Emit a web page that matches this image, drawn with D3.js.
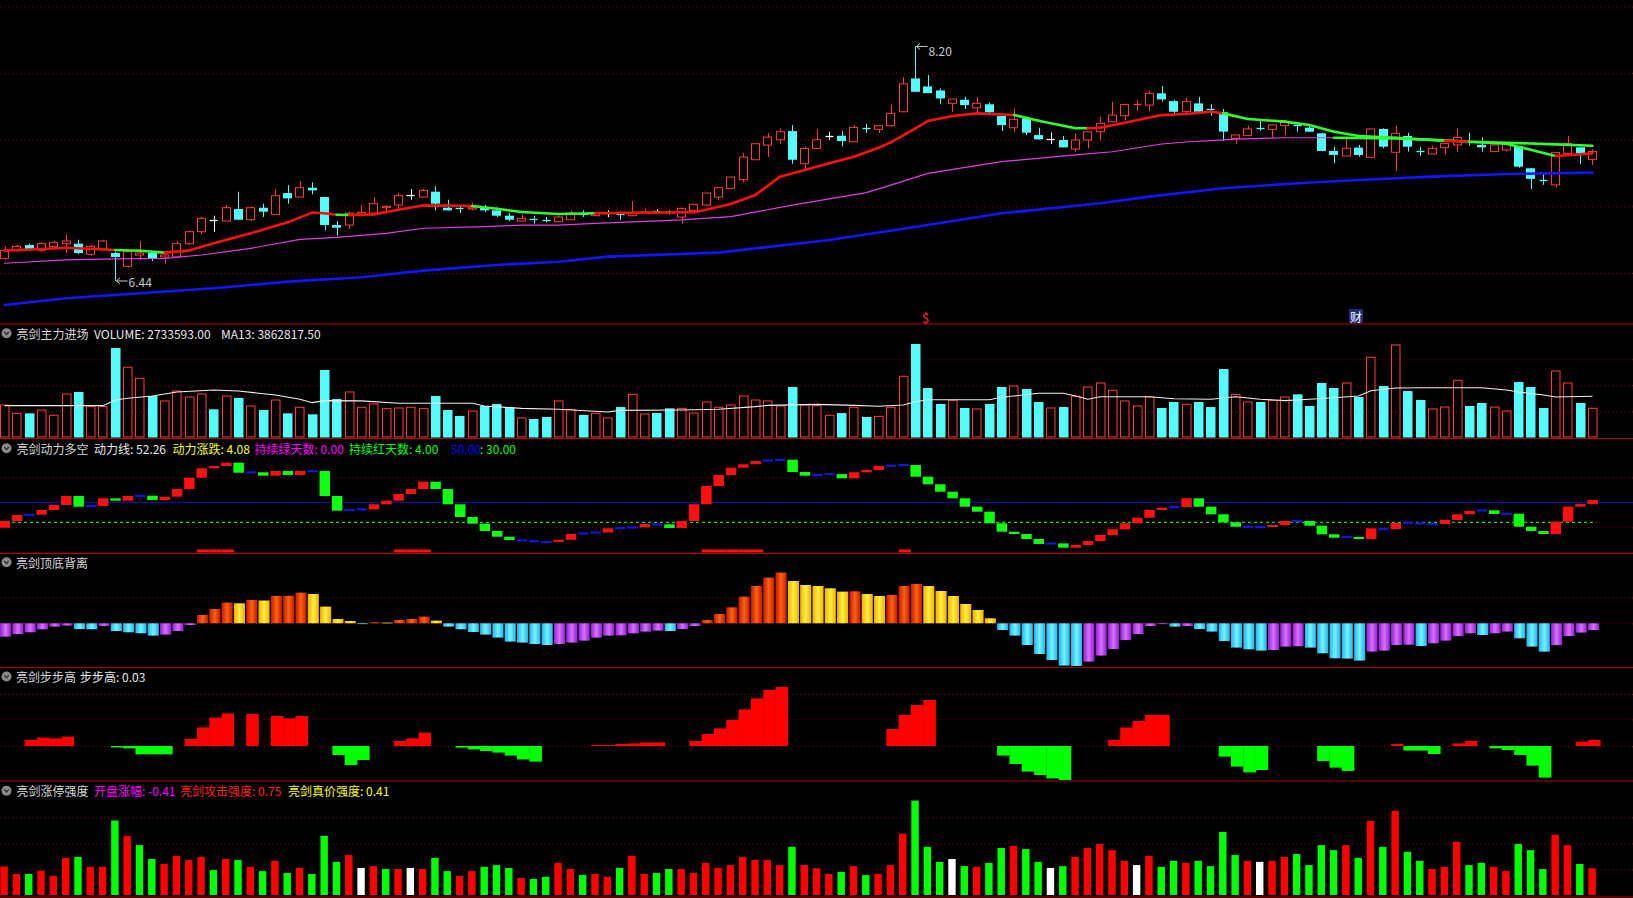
<!DOCTYPE html>
<html><head><meta charset="utf-8">
<script src="https://cdnjs.cloudflare.com/ajax/libs/d3/7.8.5/d3.min.js"></script>
<style>
html,body{margin:0;padding:0;background:#000;overflow:hidden;}
svg{display:block;}
text{font-family:"Noto Sans CJK SC","Noto Sans",sans-serif;font-size:12px;}
</style></head><body>
<svg id="chart" width="1633" height="898"></svg>
<script>
const N = 130;
// ---- main chart: OHLC ----
const open = [
6.61,6.67,6.71,6.67,6.70,6.72,6.72,6.64,6.68,6.65,
6.55,6.635,6.65,6.62,6.62,6.72,6.81,6.90,6.89,6.98,
6.90,6.99,6.94,7.10,7.07,7.14,7.07,6.86,6.86,6.94,
6.95,6.99,7.01,7.085,7.07,7.11,6.99,6.99,6.98,6.99,
6.97,6.93,6.89,6.905,6.90,6.885,6.90,6.95,6.93,6.951,
6.94,6.93,6.95,6.967,6.955,6.92,6.97,7.01,7.07,7.135,
7.20,7.35,7.46,7.50,7.565,7.32,7.435,7.53,7.53,7.485,
7.59,7.578,7.605,7.71,7.96,7.90,7.87,7.773,7.80,7.74,
7.766,7.678,7.59,7.66,7.535,7.505,7.498,7.43,7.498,7.56,
7.635,7.68,7.758,7.76,7.848,7.79,7.711,7.773,7.73,7.706,
7.511,7.531,7.588,7.578,7.606,7.613,7.591,7.548,7.416,7.378,
7.441,7.368,7.581,7.406,7.528,7.413,7.393,7.441,7.461,7.486,
7.461,7.411,7.423,7.453,7.286,7.2,7.161,7.398,7.443,7.353];
const high = [
6.70,6.71,6.72,6.73,6.74,6.79,6.75,6.71,6.75,6.66,
6.67,6.74,6.66,6.66,6.74,6.82,6.92,6.93,7.01,7.11,
7.00,7.02,7.13,7.16,7.19,7.18,7.07,6.89,6.96,7.01,
7.07,7.01,7.10,7.13,7.13,7.15,7.05,7.01,7.03,7.01,
6.97,6.95,6.94,6.93,6.92,6.93,6.97,6.97,6.96,6.97,
6.96,7.04,6.98,6.98,6.97,6.99,7.02,7.10,7.14,7.22,
7.40,7.47,7.55,7.585,7.61,7.45,7.58,7.56,7.565,7.61,
7.62,7.605,7.765,7.97,8.20,7.985,7.885,7.805,7.823,7.818,
7.778,7.678,7.735,7.66,7.59,7.555,7.528,7.548,7.56,7.673,
7.785,7.765,7.798,7.868,7.903,7.80,7.816,7.823,7.766,7.731,
7.536,7.606,7.641,7.611,7.641,7.623,7.616,7.553,7.448,7.523,
7.461,7.581,7.586,7.606,7.553,7.448,7.456,7.473,7.586,7.553,
7.518,7.461,7.466,7.453,7.286,7.253,7.403,7.528,7.443,7.428];
const low = [
6.60,6.66,6.67,6.66,6.69,6.65,6.64,6.63,6.67,6.44,
6.54,6.60,6.59,6.57,6.62,6.71,6.79,6.81,6.89,6.90,
6.89,6.92,6.94,7.02,7.07,7.09,6.82,6.78,6.83,6.94,
6.95,6.95,6.97,7.05,7.07,6.97,6.97,6.95,6.97,6.96,
6.92,6.89,6.89,6.87,6.88,6.88,6.90,6.92,6.93,6.92,
6.90,6.93,6.945,6.95,6.94,6.87,6.95,7.00,7.05,7.13,
7.18,7.35,7.37,7.47,7.32,7.27,7.43,7.50,7.45,7.485,
7.55,7.55,7.598,7.71,7.86,7.85,7.77,7.71,7.73,7.70,
7.686,7.565,7.56,7.535,7.50,7.468,7.443,7.41,7.435,7.498,
7.635,7.648,7.718,7.715,7.786,7.686,7.686,7.711,7.681,7.491,
7.468,7.531,7.568,7.518,7.536,7.561,7.561,7.416,7.323,7.378,
7.373,7.361,7.436,7.266,7.411,7.378,7.393,7.391,7.406,7.456,
7.411,7.411,7.411,7.291,7.131,7.161,7.141,7.386,7.318,7.311];
const close = [
6.67,6.70,6.68,6.72,6.73,6.74,6.65,6.70,6.74,6.62,
6.66,6.65,6.61,6.635,6.72,6.81,6.91,6.90,6.99,6.90,
6.99,6.96,7.08,7.06,7.14,7.12,6.86,6.84,6.95,6.955,
7.02,7.00,7.08,7.085,7.12,7.02,6.97,6.985,6.99,6.97,
6.93,6.90,6.91,6.90,6.895,6.92,6.95,6.935,6.95,6.951,
6.935,6.95,6.96,6.964,6.955,6.985,7.015,7.10,7.14,7.22,
7.37,7.47,7.52,7.56,7.35,7.435,7.50,7.53,7.49,7.593,
7.585,7.605,7.698,7.92,7.86,7.85,7.81,7.805,7.76,7.773,
7.706,7.61,7.653,7.553,7.503,7.505,7.443,7.498,7.56,7.623,
7.685,7.765,7.765,7.848,7.803,7.71,7.786,7.711,7.725,7.561,
7.536,7.581,7.586,7.611,7.631,7.61,7.561,7.416,7.386,7.436,
7.386,7.581,7.448,7.548,7.448,7.411,7.436,7.473,7.518,7.484,
7.443,7.461,7.466,7.298,7.206,7.198,7.403,7.473,7.398,7.411];
// main moving average (thick, red = rising state, green = falling state), sampled
const maIdx = [0,3,5,9,11,13,15,17,20,23,25,26,27,28,30,32,34,36,38,40,42,45,48,52,56,57,59,61,63,65,67,69,71,72,74,75,77,79,82,84,87,88,89,91,94,96,98,99,101,104,106,108,110,113,117,119,122,126,129];
const maVal = [6.668,6.68,6.69,6.673,6.667,6.653,6.668,6.723,6.798,6.88,6.953,6.948,6.937,6.935,6.94,6.975,7.006,7.006,7.003,6.982,6.958,6.943,6.948,6.953,6.956,6.975,7.018,7.086,7.223,7.273,7.323,7.373,7.44,7.48,7.586,7.64,7.678,7.698,7.686,7.643,7.586,7.586,7.59,7.628,7.685,7.693,7.71,7.698,7.656,7.636,7.611,7.56,7.528,7.515,7.493,7.485,7.47,7.378,7.398];
const maTrend = [1,1,1,1,0,0,1,1,1,1, 1,1,1,0,1,1,1,1,1,0, 0,0,0,1,1,1,1,1,1,1, 1,1,1,1,1,1,1,1,1,0, 0,0,1,1,1,1,1,1,0,0, 0,0,0,0,0,1,0,0,1];
// middle moving average (magenta, later drawn green)
const mbIdx = [0,5,9,13,16,20,24,27,31,34,39,42,45,48,55,59,64,70,72,75,81,87,90,94,96,100,104,108,113,117,119,122,126,129];
const mbVal = [6.573,6.598,6.606,6.61,6.635,6.685,6.753,6.768,6.798,6.836,6.848,6.86,6.86,6.873,6.898,6.923,7.01,7.103,7.16,7.248,7.336,7.386,7.41,7.468,7.483,7.505,7.515,7.515,7.51,7.495,7.485,7.478,7.465,7.455];
const mbSwitch = 108;
// long moving average (blue)
const mcIdx = [0,5,11,17,23,29,34,40,45,49,58,67,75,81,89,93,99,105,110,116,122,129];
const mcVal = [6.26,6.31,6.348,6.385,6.435,6.468,6.518,6.56,6.585,6.623,6.653,6.748,6.86,6.948,7.023,7.073,7.136,7.173,7.198,7.223,7.243,7.253];
const priceTicks = [6.5,7.0,7.5,8.0,8.5];

// ---- volume (万股) ----
const volume = [
304,226,226,257,208,407,426,289,289,838,
657,554,388,342,435,379,407,264,388,370,
295,257,351,226,283,217,632,360,426,283,
314,270,276,283,270,388,257,201,248,295,
314,283,183,173,192,342,264,211,226,183,
285,404,220,229,273,273,229,332,283,304,
388,351,342,295,473,304,298,208,229,283,
192,198,283,573,875,463,314,348,276,267,
314,473,482,454,332,276,285,386,473,510,
442,342,295,379,276,332,311,332,285,641,
404,332,332,348,379,404,295,510,463,510,
379,751,482,866,435,351,267,285,535,295,
323,285,248,519,473,276,622,510,323,273];
const vmaIdx = [0,8,9,10,12,14,17,19,22,24,25,26,29,32,38,39,42,45,49,50,55,58,61,62,66,69,71,73,74,75,80,81,82,84,86,87,88,89,93,95,98,100,102,104,106,108,110,111,113,115,120,122,123,125,126,129];
const vmaVal = [298,298,351,367,388,426,445,435,398,358,326,345,343,320,320,295,273,264,239,254,257,264,289,301,310,301,292,304,335,354,354,376,388,414,414,388,358,382,382,363,358,382,358,345,358,372,388,438,463,466,466,445,426,398,379,386];
const volTicks = [245,489,732];

// ---- 亮剑动力多空 ----
const dlStart = 24.6;
const dongli = [
31.3,37.3,37.6,42.3,47.3,56.3,45.6,46.3,54.0,51.6,
56.3,56.6,52.3,55.6,63.3,74.6,84.0,86.3,89.6,79.6,
80.0,76.6,81.3,77.3,81.3,81.3,56.3,41.6,42.3,43.0,
48.0,51.6,58.3,63.3,70.6,63.3,48.0,35.3,28.6,21.3,
15.6,12.3,12.0,11.2,10.4,12.6,18.3,19.0,19.8,24.0,
24.3,25.0,28.3,28.0,24.3,31.3,48.0,66.3,77.3,84.6,
88.0,91.3,91.8,92.6,80.3,76.6,77.4,78.2,74.0,80.0,
82.3,86.3,86.6,87.3,75.6,68.0,60.6,54.0,45.6,40.6,
29.0,20.6,18.3,13.3,8.3,8.9,4.6,7.3,11.3,17.3,
23.0,29.0,34.6,42.3,44.6,45.3,54.0,45.6,38.0,30.0,
25.6,25.6,25.3,27.3,31.3,31.3,26.6,18.0,14.6,15.4,
13.3,24.0,23.3,29.3,29.6,28.9,28.3,32.3,38.0,41.3,
42.0,38.3,38.6,25.6,21.3,18.3,30.6,45.6,48.18,52.26];
const dlSignal = [16,17,18,32,33,34,57,58,59,60,61,73];
const dlRefHigh = 50, dlRefLow = 30;
const dlTicks = [25,75];

// ---- 亮剑顶底背离 ----
const beili = [
-13.3,-10.7,-9,-6,-3.3,-2.3,-5.7,-6.0,-2.7,-7.7,
-9,-10,-12.3,-11.3,-7.7,-1.7,8.3,14.3,20.7,20.0,
23.3,22.8,27.3,27.5,30.7,29.3,16.7,4.3,2.3,-0.3,
1.0,0.7,3.3,4.3,6.7,2.7,-3.3,-6,-8.7,-11.3,
-14.3,-18.3,-19.3,-20.7,-21.7,-20.7,-19.3,-17.3,-14.3,-12.3,
-12.0,-10,-8.3,-7.3,-7.7,-5.7,-2.7,3.3,9.3,16,
26.7,37.3,45.7,50.7,42.3,38.3,37.3,35,31.7,32.0,
29.3,27.3,28.3,37.3,39.3,37.3,32.3,27.3,19.3,13.3,
5,-6.7,-12.3,-21.7,-30.7,-36.7,-42.3,-42.7,-38.3,-32.3,
-25.7,-16.7,-10.7,-2.7,-0.7,-3.3,-2.7,-5.7,-8.3,-17.7,
-24.3,-26,-27.3,-26.7,-23.3,-23.0,-24.3,-30,-35,-35.3,
-37.3,-28.3,-27.3,-21.7,-21.4,-22.7,-20,-17.3,-12.7,-10,
-11.7,-10,-8.3,-15,-23.3,-28.3,-21.7,-12.7,-9.3,-6.7];
const beiliTicks = [0,26];

// ---- 亮剑步步高 ----
const bubugao = [
0,0,0.030,0.042,0.038,0.047,0,0,0,-0.007,
-0.012,-0.042,-0.042,-0.042,0,0.035,0.093,0.142,0.163,0,
0.16,0,0.15,0.138,0.15,0,0,-0.045,-0.095,-0.07,
0,0,0.025,0.038,0.067,0,0,-0.008,-0.017,-0.025,
-0.033,-0.048,-0.067,-0.078,0,0,0,0,0.005,0.005,
0.01,0.013,0.018,0.018,0,0,0.025,0.06,0.088,0.13,
0.183,0.238,0.28,0.295,0,0,0,0,0,0,
0,0,0.085,0.155,0.205,0.23,0,0,0,0,
0,-0.048,-0.09,-0.128,-0.145,-0.162,-0.17,0,0,0,
0.03,0.092,0.125,0.155,0.155,0,0,0,0,-0.053,
-0.103,-0.132,-0.12,0,0,0,0,-0.075,-0.108,-0.125,
0,0,0,0.01,-0.023,-0.023,-0.04,0,0.013,0.025,
0,-0.012,-0.02,-0.045,-0.098,-0.158,0,0,0.022,0.03];
const bbgTicks = [0,0.1335,0.26];

// ---- 亮剑涨停强度 ----
const qiangdu = [
0.80,0.59,0.59,0.68,0.54,1.04,1.07,0.79,0.79,2.09,
1.66,1.40,1.01,0.87,1.10,0.98,1.07,0.70,1.01,0.98,
0.79,0.67,0.96,0.62,0.76,0.59,1.66,0.93,1.12,0.76,
0.81,0.73,0.73,0.76,0.73,1.04,0.67,0.53,0.67,0.79,
0.84,0.76,0.48,0.45,0.51,0.90,0.73,0.56,0.59,0.51,
0.76,1.10,0.59,0.62,0.73,0.73,0.62,0.90,0.76,0.84,
1.07,0.98,0.98,0.84,1.35,0.84,0.75,0.59,0.65,0.81,
0.56,0.59,0.84,1.72,2.65,1.35,0.93,1.01,0.81,0.79,
0.90,1.32,1.38,1.29,0.93,0.76,0.81,1.07,1.32,1.43,
1.26,0.96,0.84,1.10,0.79,0.96,0.90,0.96,0.81,1.77,
1.12,0.96,0.93,0.96,1.07,1.15,0.84,1.40,1.26,1.40,
1.04,2.08,1.35,2.36,1.21,0.96,0.73,0.79,1.49,0.84,
0.90,0.79,0.67,1.43,1.26,0.73,1.69,1.40,0.87,0.75];
const qdDir = [
1,1,-1,1,1,1,-1,1,1,-1,
1,-1,-1,1,1,1,1,-1,1,-1,
1,-1,1,-1,1,-1,-1,-1,1,0,
1,-1,1,0,1,-1,-1,1,1,-1,
-1,-1,1,-1,-1,1,1,-1,1,1,
-1,1,1,-1,-1,1,1,1,1,1,
1,1,1,1,-1,1,1,1,-1,1,
-1,1,1,1,-1,-1,-1,0,-1,1,
-1,-1,1,-1,-1,0,-1,1,1,1,
1,1,0,1,-1,-1,1,-1,-1,-1,
-1,1,0,1,1,-1,-1,-1,-1,1,
-1,1,-1,1,-1,-1,1,1,1,-1,
-1,1,1,-1,-1,-1,1,1,-1,1];
const qdTicks = [0.72,1.45,2.18];

// ---- titles ----
const titleVol = [["亮剑主力进场","#d8d8d8",16.5],["VOLUME: 2733593.00","#e8e8e8",94],["MA13: 3862817.50","#e8e8e8",221]];
const titleDl = [["亮剑动力多空","#d8d8d8",16.5],["动力线: 52.26","#e8e8e8",94],["动力涨跌: 4.08","#ffff00",172.5],["持续绿天数: 0.00","#ff00ff",254.5],["持续红天数: 4.00","#00ff00",349],["50.00","#0000ff",451],[": 30.00","#00ff00",480]];
const titleBl = [["亮剑顶底背离","#d8d8d8",16]];
const titleBbg = [["亮剑步步高","#d8d8d8",16],["步步高: 0.03","#e8e8e8",80]];
const titleQd = [["亮剑涨停强度","#d8d8d8",16.5],["开盘涨幅: -0.41","#ff00ff",94],["亮剑攻击强度: 0.75","#ff2020",180],["亮剑真价强度: 0.41","#ffff00",288]];

// ================= drawing =================
const W = 1633, H = 898;
const svg = d3.select("#chart");
svg.append("rect").attr("width",W).attr("height",H).attr("fill","#000");

const step = 12.31;
const x = d3.scaleBand().domain(d3.range(N)).range([0, N*step]);
const cx = i => x(i) + 4.5;

const RED = "#ff3c3c", CYAN = "#54fcfc";

function grid(scale, vals){
  const g = svg.append("g")
    .call(d3.axisRight(scale).tickValues(vals).tickSize(W).tickFormat(""));
  g.select(".domain").remove();
  g.selectAll("line").attr("stroke","#860000").attr("stroke-dasharray","1,3");
  return g;
}

// scales
const yP = d3.scaleLinear().domain([6.5, 8.5]).range([273, 6.5]);
const yV = d3.scaleLinear().domain([0, 978]).range([437.5, 333]);
const y3 = d3.scaleLinear().domain([0, 100]).range([552.3, 452.3]);
const y4 = d3.scaleLinear().domain([-43, 70]).range([666.3, 553.3]);
const y5 = d3.scaleLinear().domain([-0.175, 0.39]).range([781, 668]);
const y6 = d3.scaleLinear().domain([0, 3.2]).range([895, 781]);

grid(yP, priceTicks);
grid(yV, volTicks);
grid(y3, dlTicks);
grid(y4, beiliTicks);
grid(y5, bbgTicks);
grid(y6, qdTicks);

// separators
[324, 438.5, 553.3, 667.5, 781, 897].forEach(yy => {
  svg.append("line").attr("x1",0).attr("x2",W).attr("y1",yy).attr("y2",yy)
    .attr("stroke","#b00000").attr("stroke-width",1.2);
});

// ---- candles ----
const gC = svg.append("g");
d3.range(N).forEach(i => {
  const o = open[i], c = close[i];
  const col = c > o ? RED : (c < o ? CYAN : "#ffffff");
  const xc = Math.round(cx(i)) + 0.5;
  const x0 = Math.round(x(i)) + 0.5;
  gC.append("line").attr("x1",xc).attr("x2",xc).attr("y1",yP(high[i])).attr("y2",yP(low[i]))
    .attr("stroke",col).attr("stroke-width",1);
  const top = yP(Math.max(o,c)), bot = yP(Math.min(o,c));
  if (bot - top < 1.2) {
    gC.append("line").attr("x1",x0).attr("x2",x0+8).attr("y1",Math.round(top)+0.5).attr("y2",Math.round(top)+0.5)
      .attr("stroke",col).attr("stroke-width",1.3);
  } else if (c > o) {
    gC.append("rect").attr("x",x0).attr("y",top).attr("width",8).attr("height",bot-top)
      .attr("fill","#000").attr("stroke",col).attr("stroke-width",1);
  } else {
    gC.append("rect").attr("x",x0-0.5).attr("y",top).attr("width",9).attr("height",bot-top)
      .attr("fill",col);
  }
});

// ---- moving averages ----
const lineP = d3.line().x(d => cx(d[0])).y(d => yP(d[1]));
const gL = svg.append("g").attr("fill","none").attr("stroke-linecap","round").attr("stroke-linejoin","round");
const mc = mcIdx.map((k,j) => [k, mcVal[j]]);
gL.append("path").attr("d", lineP(mc)).attr("stroke","#1414ff").attr("stroke-width",2.6);
const mb = mbIdx.map((k,j) => [k, mbVal[j]]);
gL.append("path").attr("d", lineP(mb.filter(d => d[0] <= mbSwitch))).attr("stroke","#e040e0").attr("stroke-width",1.2);
gL.append("path").attr("d", lineP(mb.filter(d => d[0] >= mbSwitch))).attr("stroke","#30ff30").attr("stroke-width",2.6);
for (let j = 1; j < maIdx.length; j++) {
  const seg = [[maIdx[j-1], maVal[j-1]], [maIdx[j], maVal[j]]];
  gL.append("path").attr("d", lineP(seg))
    .attr("stroke", maTrend[j] ? "#ff1010" : "#30ff30").attr("stroke-width",2.6);
}

// extreme labels
function extremeLabel(i, price, dy){
  const xw = Math.round(cx(i)) + 0.5, yy = yP(price);
  const g = svg.append("g").attr("stroke","#c8c8c8").attr("fill","none").attr("stroke-width",1);
  g.append("path").attr("d", `M${xw+1},${yy} L${xw+12},${yy} M${xw+1},${yy} L${xw+4.5},${yy-3} M${xw+1},${yy} L${xw+4.5},${yy+3}`);
  svg.append("text").attr("x", xw+13).attr("y", yy+dy).attr("dominant-baseline","central")
    .attr("fill","#c8c8c8").text(price.toFixed(2));
}
const iLow = d3.minIndex(low), iHigh = d3.maxIndex(high);
extremeLabel(iLow, low[iLow], 1);
extremeLabel(iHigh, high[iHigh], 4);

// event markers
svg.append("text").attr("x",925.7).attr("y",317).attr("text-anchor","middle").attr("dominant-baseline","central")
  .attr("fill","#ff2020").style("font-size","13px").text("$");
svg.append("rect").attr("x",1349).attr("y",309).attr("width",14).attr("height",14).attr("fill","#1c2c78");
svg.append("text").attr("x",1356).attr("y",316).attr("text-anchor","middle").attr("dominant-baseline","central")
  .attr("fill","#ffffff").text("财");

// ---- volume ----
const gV = svg.append("g");
d3.range(N).forEach(i => {
  let up = close[i] > open[i] ? true : (close[i] < open[i] ? false : (i > 0 ? close[i] >= close[i-1] : true));
  const yt = yV(volume[i]), yb = yV(0);
  const x0 = Math.round(x(i)) + 0.5;
  if (up) {
    gV.append("rect").attr("x",x0).attr("y",yt).attr("width",8.5).attr("height",yb-yt-0.5)
      .attr("fill","none").attr("stroke",RED).attr("stroke-width",1);
  } else {
    gV.append("rect").attr("x",x0-0.5).attr("y",yt).attr("width",9.5).attr("height",yb-yt)
      .attr("fill",CYAN);
  }
});
const lineV = d3.line().x(d => cx(d[0])).y(d => yV(d[1]));
gV.append("path").attr("d", lineV(vmaIdx.map((k,j) => [k, vmaVal[j]])))
  .attr("fill","none").attr("stroke","#f0f0f0").attr("stroke-width",1.1);

// ---- 动力多空 ----
const g3 = svg.append("g");
g3.append("line").attr("x1",0).attr("x2",W).attr("y1",y3(dlRefHigh)).attr("y2",y3(dlRefHigh))
  .attr("stroke","#1010d0").attr("stroke-width",1);
g3.append("line").attr("x1",0).attr("x2",cx(N-1)+4).attr("y1",y3(dlRefLow)).attr("y2",y3(dlRefLow))
  .attr("stroke","#00e000").attr("stroke-width",1.2).attr("stroke-dasharray","3,3");
d3.range(N).forEach(i => {
  const prev = i === 0 ? dlStart : dongli[i-1];
  const cur = dongli[i], diff = cur - prev;
  const x0 = x(i) - 0.5;
  if (Math.abs(diff) < 1) {
    g3.append("rect").attr("x",x0).attr("y",y3(cur)-1).attr("width",10.5).attr("height",2.2).attr("fill","#1414e0");
  } else {
    const t = y3(Math.max(cur,prev)), b = y3(Math.min(cur,prev));
    g3.append("rect").attr("x",x0).attr("y",t).attr("width",10.5).attr("height",b-t)
      .attr("fill", diff > 0 ? "#ff1010" : "#10ff10");
  }
});
dlSignal.forEach(i => {
  g3.append("rect").attr("x",x(i)).attr("y",y3(2.8)).attr("width",x.bandwidth()).attr("height",y3(0)-y3(2.8))
    .attr("fill","#ff1010");
});

// ---- 顶底背离 ----
const defs = svg.append("defs");
function grad(id, edge, mid){
  const lg = defs.append("linearGradient").attr("id",id).attr("x1","0").attr("x2","1").attr("y1","0").attr("y2","0");
  lg.append("stop").attr("offset","0%").attr("stop-color",edge);
  lg.append("stop").attr("offset","50%").attr("stop-color",mid);
  lg.append("stop").attr("offset","100%").attr("stop-color",edge);
}
grad("gOrange","#c01c00","#ff6010");
grad("gYellow","#f0b000","#ffee40");
grad("gCyan","#28b0e8","#70f4ff");
grad("gMag","#9020d0","#d870ff");
const g4 = svg.append("g");
d3.range(N).forEach(i => {
  const v = beili[i], prev = i === 0 ? -15 : beili[i-1];
  let fill;
  if (v >= 0) fill = v > prev ? "url(#gOrange)" : "url(#gYellow)";
  else fill = v < prev ? "url(#gCyan)" : "url(#gMag)";
  const t = y4(Math.max(v,0)), b = y4(Math.min(v,0));
  g4.append("rect").attr("x",x(i)).attr("y",t).attr("width",x.bandwidth()-1.2).attr("height",Math.max(b-t,0.8)).attr("fill",fill);
});

// ---- 步步高 ----
const g5 = svg.append("g");
d3.range(N).forEach(i => {
  const v = bubugao[i];
  if (v === 0) return;
  const t = y5(Math.max(v,0)), b = y5(Math.min(v,0));
  g5.append("rect").attr("x",x(i)).attr("y",t).attr("width",x.bandwidth()+0.3).attr("height",b-t)
    .attr("fill", v > 0 ? "#ff0000" : "#00ff00");
});

// ---- 涨停强度 ----
const g6 = svg.append("g");
d3.range(N).forEach(i => {
  const t = y6(qiangdu[i]), b = y6(0);
  g6.append("rect").attr("x",x(i)+0.4).attr("y",t).attr("width",7.4).attr("height",b-t)
    .attr("fill", qdDir[i] > 0 ? "#ff0000" : (qdDir[i] < 0 ? "#00ff00" : "#ffffff"));
});

// ---- titles ----
function title(y, parts){
  const g = svg.append("g");
  g.append("circle").attr("cx",6.5).attr("cy",y).attr("r",5).attr("fill","#8a8a8a");
  g.append("path").attr("d",`M4.3,${y-1.3} L6.5,${y+1.3} L8.7,${y-1.3}`).attr("fill","none").attr("stroke","#2a2a2a").attr("stroke-width",1.2);
  parts.forEach(p => {
    g.append("text").attr("x",p[2]).attr("y",y).attr("dominant-baseline","central").attr("fill",p[1]).text(p[0]);
  });
}
title(333.3, titleVol);
title(448.3, titleDl);
title(562.3, titleBl);
title(676.5, titleBbg);
title(790.7, titleQd);
</script>
</body></html>
